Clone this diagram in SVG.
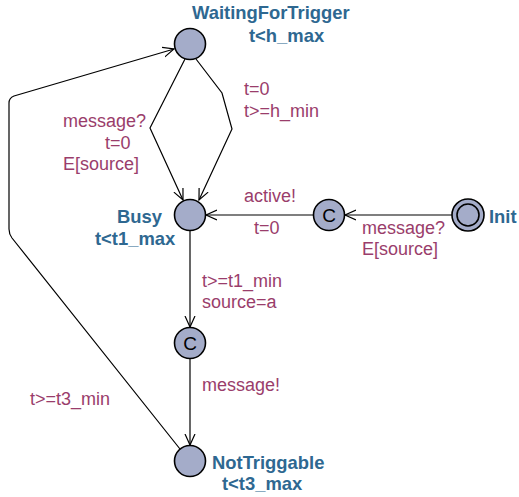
<svg xmlns="http://www.w3.org/2000/svg" width="519" height="497" viewBox="0 0 519 497">
<style>
.loc{fill:#a4acc9;stroke:#000;stroke-width:1.6}
.name{font-family:"Liberation Sans",Arial,sans-serif;font-weight:bold;font-size:18.4px;fill:#2e6891}
.lbl{font-family:"Liberation Sans",Arial,sans-serif;font-size:18px;fill:#9a3d6b}
.c{font-family:"Liberation Sans",Arial,sans-serif;font-size:19px;fill:#000;text-anchor:middle}
.edge{fill:none;stroke:#000;stroke-width:1.2}
</style>
<defs>
<marker id="arr" markerUnits="userSpaceOnUse" markerWidth="14" markerHeight="14" refX="11" refY="6" orient="auto" viewBox="0 0 14 12">
<path d="M0,1 L11,6 L0,11" fill="none" stroke="#000" stroke-width="1.2"/>
</marker>
</defs>
<g id="connectors">
<path class="edge" d="M185,59 L150,128 L183,200" marker-end="url(#arr)"/>
<path class="edge" d="M196,59 L222,93 L232,129 L199,200" marker-end="url(#arr)"/>
<path class="edge" d="M313,215 L206,215" marker-end="url(#arr)"/>
<path class="edge" d="M452,215 L345,215" marker-end="url(#arr)"/>
<path class="edge" d="M190,231 L190,327" marker-end="url(#arr)"/>
<path class="edge" d="M190,359 L190,445" marker-end="url(#arr)"/>
<path class="edge" d="M180,449 L12,238 Q9,234 9,229 L9,103 Q9,98 14,96 L174,49" marker-end="url(#arr)"/>
<text class="lbl" x="63" y="127">message?</text>
<text class="lbl" x="105" y="149">t=0</text>
<text class="lbl" x="63" y="170">E[source]</text>
<text class="lbl" x="244" y="95">t=0</text>
<text class="lbl" x="244" y="117">t&gt;=h_min</text>
<text class="lbl" x="244" y="202">active!</text>
<text class="lbl" x="254" y="234">t=0</text>
<text class="lbl" x="362" y="234">message?</text>
<text class="lbl" x="362" y="255">E[source]</text>
<text class="lbl" x="202" y="287">t&gt;=t1_min</text>
<text class="lbl" x="202" y="308">source=a</text>
<text class="lbl" x="202" y="391">message!</text>
<text class="lbl" x="30" y="405">t&gt;=t3_min</text>
</g>
<g id="WaitingForTrigger">
<circle class="loc" cx="190" cy="44" r="15.5"/>
<text class="name" x="192" y="19">WaitingForTrigger</text>
<text class="name" x="249" y="42">t&lt;h_max</text>
</g>
<g id="Busy">
<circle class="loc" cx="190" cy="215" r="15.5"/>
<text class="name" x="117" y="223">Busy</text>
<text class="name" x="95" y="245">t&lt;t1_max</text>
</g>
<g id="C1">
<circle class="loc" cx="329" cy="215" r="15.5"/>
<text class="c" x="329" y="222">C</text>
</g>
<g id="Init">
<circle class="loc" cx="468" cy="215" r="16"/>
<circle cx="468" cy="215" r="11" fill="none" stroke="#000" stroke-width="1.6"/>
<text class="name" x="489" y="223">Init</text>
</g>
<g id="C2">
<circle class="loc" cx="190" cy="343" r="15.5"/>
<text class="c" x="190" y="350">C</text>
</g>
<g id="NotTriggable">
<circle class="loc" cx="190" cy="461" r="15.5"/>
<text class="name" x="212" y="469">NotTriggable</text>
<text class="name" x="222" y="490">t&lt;t3_max</text>
</g>
</svg>
